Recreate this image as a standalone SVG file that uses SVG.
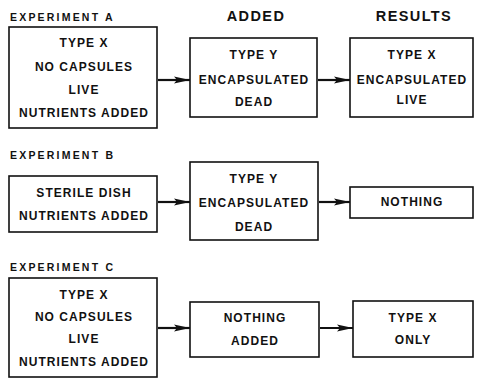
<svg xmlns="http://www.w3.org/2000/svg" width="477" height="379" viewBox="0 0 477 379">
<defs>
<marker id="ah" markerWidth="16" markerHeight="10" refX="16" refY="5" orient="auto" markerUnits="userSpaceOnUse">
<path d="M0,1.5 L16,5 L0,8.5 L3,5 Z" fill="#111"/>
</marker>
<style>
.bx{fill:#fff;stroke:#111;stroke-width:1.6}
.t{font-family:"Liberation Sans",Arial,sans-serif;font-weight:bold;font-size:12px;letter-spacing:1.05px;fill:#111;text-anchor:middle}
.ti{font-family:"Liberation Sans",Arial,sans-serif;font-weight:bold;font-size:10.5px;letter-spacing:2.2px;fill:#111}
.h{font-family:"Liberation Sans",Arial,sans-serif;font-weight:bold;font-size:14.5px;letter-spacing:1.4px;fill:#111;text-anchor:middle}
.c{stroke:#111;stroke-width:2.2;fill:none;marker-end:url(#ah)}
</style>
</defs>
<rect width="477" height="379" fill="#fff"/>
<g id="headers">
<text class="h" x="256" y="21">ADDED</text>
<text class="h" x="414" y="21">RESULTS</text>
<text class="ti" x="10" y="21">EXPERIMENT A</text>
<text class="ti" x="10" y="159">EXPERIMENT B</text>
<text class="ti" x="10" y="271">EXPERIMENT C</text>
</g>
<g id="connectors">
<line class="c" x1="158" y1="80" x2="190" y2="80"/>
<line class="c" x1="318" y1="80" x2="350" y2="80"/>
<line class="c" x1="158" y1="202" x2="190" y2="202"/>
<line class="c" x1="319" y1="202" x2="350" y2="202"/>
<line class="c" x1="158" y1="328" x2="190" y2="328"/>
<line class="c" x1="320" y1="328" x2="353" y2="328"/>
</g>
<g id="a1">
<rect class="bx" x="9" y="27" width="148" height="101"/>
<text class="t" x="84" y="47">TYPE X</text>
<text class="t" x="84" y="71">NO CAPSULES</text>
<text class="t" x="84" y="94">LIVE</text>
<text class="t" x="84" y="117">NUTRIENTS ADDED</text>
</g>
<g id="a2">
<rect class="bx" x="190" y="38" width="127" height="79"/>
<text class="t" x="254" y="59">TYPE Y</text>
<text class="t" x="254" y="84">ENCAPSULATED</text>
<text class="t" x="254" y="106">DEAD</text>
</g>
<g id="a3">
<rect class="bx" x="350" y="38" width="123" height="79"/>
<text class="t" x="412" y="59">TYPE X</text>
<text class="t" x="412" y="84">ENCAPSULATED</text>
<text class="t" x="412" y="104">LIVE</text>
</g>
<g id="b1">
<rect class="bx" x="9" y="176" width="148" height="56"/>
<text class="t" x="84" y="197">STERILE DISH</text>
<text class="t" x="84" y="220">NUTRIENTS ADDED</text>
</g>
<g id="b2">
<rect class="bx" x="190" y="162" width="128" height="78"/>
<text class="t" x="254" y="183">TYPE Y</text>
<text class="t" x="254" y="207">ENCAPSULATED</text>
<text class="t" x="254" y="231">DEAD</text>
</g>
<g id="b3">
<rect class="bx" x="350" y="187" width="123" height="31"/>
<text class="t" x="412" y="206">NOTHING</text>
</g>
<g id="c1">
<rect class="bx" x="9" y="278" width="148" height="99"/>
<text class="t" x="84" y="299">TYPE X</text>
<text class="t" x="84" y="321">NO CAPSULES</text>
<text class="t" x="84" y="343">LIVE</text>
<text class="t" x="84" y="366">NUTRIENTS ADDED</text>
</g>
<g id="c2">
<rect class="bx" x="190" y="302" width="129" height="55"/>
<text class="t" x="255" y="322">NOTHING</text>
<text class="t" x="255" y="345">ADDED</text>
</g>
<g id="c3">
<rect class="bx" x="353" y="301" width="120" height="56"/>
<text class="t" x="413" y="322">TYPE X</text>
<text class="t" x="413" y="344">ONLY</text>
</g>
</svg>
